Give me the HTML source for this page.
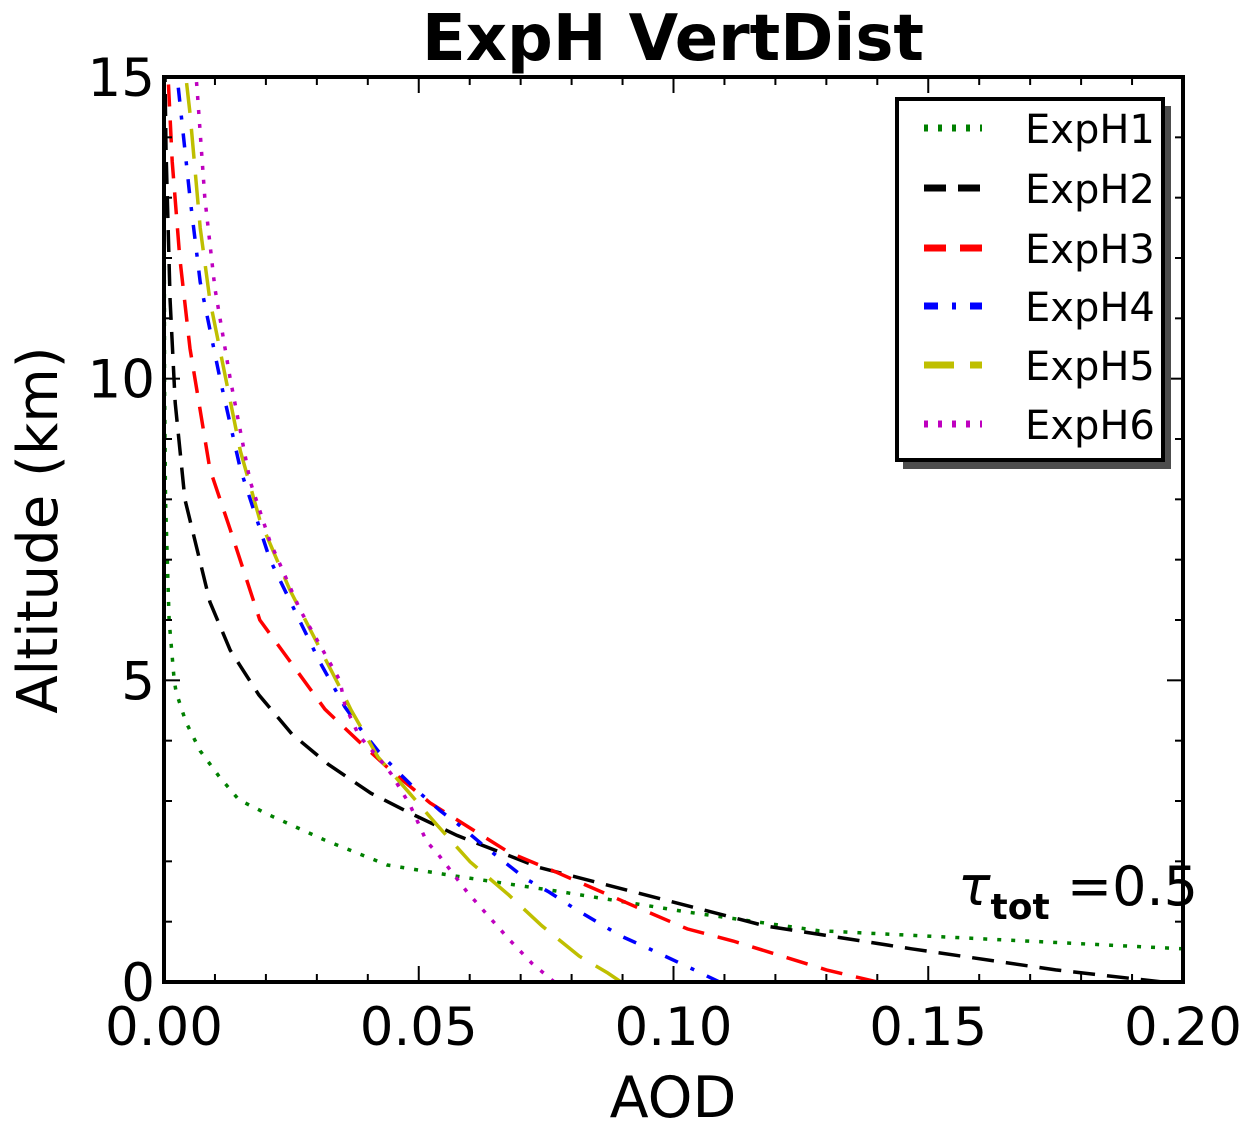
<!DOCTYPE html>
<html><head><meta charset="utf-8"><style>
body{margin:0;background:#fff}
svg text{font-family:"DejaVu Sans","Liberation Sans",sans-serif}
</style></head><body>
<svg id="chart" width="1253" height="1128" xmlns="http://www.w3.org/2000/svg">
<defs><clipPath id="clip"><rect x="164" y="77" width="1019" height="905"/></clipPath></defs>
<text x="673" y="60" font-size="64" font-weight="bold" text-anchor="middle">ExpH VertDist</text>
<g id="series" clip-path="url(#clip)"></g>
<g id="axes"></g>
<text x="673" y="1117" font-size="57" text-anchor="middle">AOD</text>
<text transform="translate(57,530) rotate(-90)" font-size="56" text-anchor="middle">Altitude (km)</text>
<text x="958" y="905" font-family="Liberation Serif,serif" font-size="54"><tspan font-style="italic">τ</tspan><tspan font-size="36" dy="14" font-weight="bold">tot</tspan><tspan dy="-14"> =0.5</tspan></text>
<g id="legend"></g>
</svg>
<script>
const names=["ExpH1","ExpH2","ExpH3","ExpH4","ExpH5","ExpH6"];
const colors=["#008000","#000000","#ff0000","#0000ff","#bfbf00","#bf00bf"];
const dashes=["4 10","22 12","22 14","14 14 4 14","30 16","4 10"];
const xTicks=[0,0.05,0.10,0.15,0.20];
const xTickLabels=["0.00","0.05","0.10","0.15","0.20"];
const yTicks=[0,5,10,15];
const yTickLabels=["0","5","10","15"];
const aod1=[0.2,0.1285,0.1027,0.0768,0.0561,0.0438,0.0316,0.0206,0.0147,0.0108,0.0071,0.0043,0.0024,0.002,0.001,0.0003,0.0001,0];
const alt1=[0.55,0.85,1.16,1.51,1.77,1.94,2.35,2.77,3.02,3.41,3.83,4.31,4.8,5.0,6.0,8.0,10,15];
const aod2=[0.196,0.175,0.1467,0.118,0.091,0.0736,0.0575,0.0483,0.0406,0.0322,0.0251,0.0186,0.013,0.009,0.0041,0.0022,0.0012,0.0004,0.0002];
const alt2=[0,0.2,0.55,0.93,1.52,1.9,2.43,2.8,3.13,3.61,4.11,4.76,5.5,6.3,8,9.6,11.3,13.8,15];
const aod3=[0.14,0.13,0.1117,0.1027,0.0936,0.077,0.0677,0.0601,0.0522,0.0446,0.0381,0.0316,0.0188,0.013,0.009,0.0051,0.0031,0.0016,0.0008];
const alt3=[0,0.2,0.68,0.88,1.21,1.82,2.15,2.55,2.97,3.5,4.0,4.52,6.0,7.5,8.5,10.5,12,13.6,15];
const aod4=[0.109,0.1046,0.095,0.0897,0.0807,0.0756,0.071,0.0626,0.0581,0.0542,0.0497,0.0457,0.042,0.0387,0.0355,0.0306,0.0208,0.015,0.011,0.0071,0.0051,0.0027];
const alt4=[0,0.18,0.56,0.76,1.21,1.49,1.71,2.27,2.59,2.84,3.17,3.5,3.83,4.18,4.56,5.3,7.0,8.5,10,11.6,13,14.9];
const aod5=[0.0897,0.0871,0.0815,0.0742,0.0677,0.0601,0.0536,0.0483,0.042,0.0367,0.0355,0.0326,0.0247,0.0188,0.015,0.009,0.0071,0.0051,0.0043];
const alt5=[0,0.15,0.43,0.93,1.44,1.99,2.6,3.12,3.73,4.51,4.72,5.2,6.5,7.66,8.8,11.3,12.5,14.4,15];
const aod6=[0.0766,0.0722,0.0677,0.0636,0.0595,0.0575,0.0536,0.0516,0.0483,0.0446,0.042,0.04,0.0381,0.0355,0.0345,0.0267,0.0208,0.0169,0.013,0.01,0.008,0.0065,0.0063];
const alt6=[0,0.31,0.71,1.1,1.49,1.71,2.14,2.32,2.93,3.45,3.73,3.91,4.11,4.59,5.0,6.17,7.3,8.3,10,11.5,13,14.8,15];
const aods=[aod1,aod2,aod3,aod4,aod5,aod6];
const alts=[alt1,alt2,alt3,alt4,alt5,alt6];

const NS="http://www.w3.org/2000/svg";
const X0=164,X1=1183,Y0=982,Y1=77;
const sx=v=>X0+(v-0)/(0.2-0)*(X1-X0);
const sy=v=>Y0-(v-0)/(15-0)*(Y0-Y1);
function mk(tag,attrs,parent){const e=document.createElementNS(NS,tag);for(const k in attrs)e.setAttribute(k,attrs[k]);parent.appendChild(e);return e;}
const gS=document.getElementById('series');
for(let i=0;i<names.length;i++){
  const d=aods[i].map((v,j)=>(j?'L':'M')+sx(v).toFixed(1)+','+sy(alts[i][j]).toFixed(1)).join('');
  const p=mk('path',{d:d,fill:'none',stroke:colors[i],'stroke-width':3.5,'stroke-dasharray':dashes[i]},gS);
  
  
}
const gA=document.getElementById('axes');
const frame=mk('rect',{x:X0,y:Y1,width:X1-X0,height:Y0-Y1,fill:'none',stroke:'#000','stroke-width':4},gA);


for(let k=0;k<=20;k++){
  const x=sx(k*0.01),L=(k%5==0)?16:8;
  mk('line',{x1:x,x2:x,y1:Y0,y2:Y0-L,stroke:'#000','stroke-width':2},gA);
  mk('line',{x1:x,x2:x,y1:Y1,y2:Y1+L,stroke:'#000','stroke-width':2},gA);
}
for(let k=0;k<=15;k++){
  const y=sy(k),L=(k%5==0)?16:8;
  mk('line',{x1:X0,x2:X0+L,y1:y,y2:y,stroke:'#000','stroke-width':2},gA);
  mk('line',{x1:X1,x2:X1-L,y1:y,y2:y,stroke:'#000','stroke-width':2},gA);
}
xTicks.forEach((v,i)=>{
  const t=mk('text',{x:sx(v),y:1045,'font-size':53,'text-anchor':'middle'},gA);
  t.textContent=xTickLabels[i];
  
  
});
yTicks.forEach((v,i)=>{
  const t=mk('text',{x:155,y:sy(v)+19,'font-size':53,'text-anchor':'end'},gA);
  t.textContent=yTickLabels[i];
  
  
});
const gL=document.getElementById('legend');


mk('rect',{x:903,y:106,width:268,height:363,fill:'#4d4d4d'},gL);
mk('rect',{x:897,y:99,width:266,height:361,fill:'#fff',stroke:'#000','stroke-width':4},gL);
const rows=[128,188,248,306,365,424];
names.forEach((n,i)=>{
  const g=mk('g',{},gL);
  
  
  mk('line',{x1:924,x2:982,y1:rows[i],y2:rows[i],stroke:colors[i],'stroke-width':7,'stroke-dasharray':dashes[i]},g);
  const t=mk('text',{x:1025,y:rows[i]+15,'font-size':40},g);
  t.textContent=n;
});
</script>
</body></html>
